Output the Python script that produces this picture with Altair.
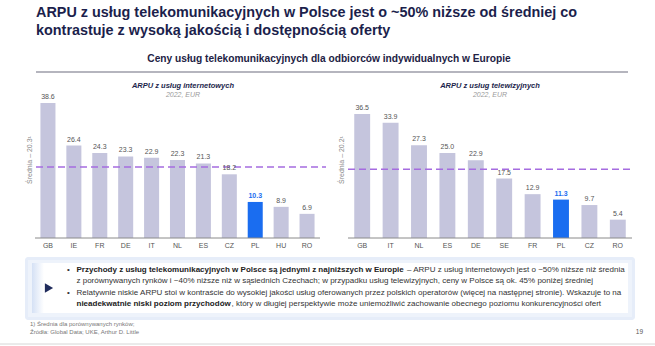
import altair as alt
import pandas as pd

# ---- data ----
countries_net = ["GB", "IE", "FR", "DE", "IT", "NL", "ES", "CZ", "PL", "HU", "RO"]
arpu_net = [38.6, 26.4, 24.3, 23.3, 22.9, 22.3, 21.3, 18.2, 10.3, 8.9, 6.9]
avg_net = 20.3

countries_tv = ["GB", "IT", "NL", "ES", "DE", "SE", "FR", "PL", "CZ", "RO"]
arpu_tv = [36.5, 33.9, 27.3, 25.0, 22.9, 17.5, 12.9, 11.3, 9.7, 5.4]
avg_tv = 20.2

FONT = "Liberation Sans"
NAVY = "#1c1f4c"
BAR = "#c5c5dd"
BLUE = "#1a6df0"
PURPLE = "#a56ce0"
GRAY_TXT = "#555555"

one = pd.DataFrame({"k": [0]})


def T(s, x, y, size, color="#333333", weight="normal", style="normal",
      align="left", angle=0, baseline="middle"):
    return alt.Chart(one).mark_text(
        align=align, baseline=baseline, fontSize=size, fontWeight=weight,
        fontStyle=style, color=color, font=FONT, angle=angle
    ).encode(x=alt.value(x), y=alt.value(y), text=alt.value(s))


def panel(countries, values, avg, xrange, ydomain, pin, pout, line_x, title, tx):
    df = pd.DataFrame({"country": countries, "value": values})
    xsc = alt.Scale(domain=countries, range=xrange, paddingInner=pin, paddingOuter=pout)
    ysc = alt.Scale(domain=ydomain, range=[238, 98], nice=False, zero=True)
    xs = alt.X("country:N", axis=None, scale=xsc)
    ys = alt.Y("value:Q", axis=None, scale=ysc)
    base = alt.Chart(df)
    bars = base.mark_bar().encode(
        x=xs, y=ys,
        color=alt.condition(alt.datum.country == "PL", alt.value(BLUE), alt.value(BAR)),
    )
    lab = base.transform_filter(alt.datum.country != "PL").mark_text(
        baseline="bottom", dy=-3, fontSize=7, color=GRAY_TXT, font=FONT
    ).encode(x=xs, y=ys, text=alt.Text("value:Q", format=".1f"))
    lab_pl = base.transform_filter(alt.datum.country == "PL").mark_text(
        baseline="bottom", dy=-3, fontSize=7, color=BLUE, font=FONT, fontWeight="bold"
    ).encode(x=xs, y=ys, text=alt.Text("value:Q", format=".1f"))
    ctry = base.mark_text(
        baseline="middle", fontSize=7, color=GRAY_TXT, font=FONT
    ).encode(x=xs, y=alt.value(246), text="country:N")
    axis_line = alt.Chart(pd.DataFrame({"value": [0]})).mark_rule(
        color="#8a8a8a", strokeWidth=1
    ).encode(x=alt.value(xrange[0]), x2=alt.value(xrange[1]), y=ys)
    avg_line = alt.Chart(pd.DataFrame({"value": [avg]})).mark_rule(
        color=PURPLE, strokeWidth=1.5, strokeDash=[7, 4]
    ).encode(x=alt.value(line_x[0]), x2=alt.value(line_x[1]), y=ys)
    marks = [bars, axis_line, avg_line, lab, lab_pl, ctry]
    texts = [
        T(title, tx, 86, 7.5, color=NAVY, weight="bold", style="italic", align="center"),
        T("2022, EUR", tx, 95, 7, color="#9a9a9a", style="italic", align="center"),
        T("Średnia – %s¹" % str(avg), line_x[0] - 6, 160, 7, color="#8a8a8a",
          align="center", angle=270),
    ]
    return marks, texts


left, left_txt = panel(countries_net, arpu_net, avg_net, [35, 320], [0, 40],
                       0.42, 0.21, [36, 326], "ARPU z usług internetowych", 183)
right, right_txt = panel(countries_tv, arpu_tv, avg_tv, [348, 632], [0, 41.2],
                         0.44, 0.22, [348, 630], "ARPU z usług telewizyjnych", 490)

# header
header = [
    T("ARPU z usług telekomunikacyjnych w Polsce jest o ~50% niższe od średniej co",
      36, 12.5, 14.4, color=NAVY, weight="bold"),
    T("kontrastuje z wysoką jakością i dostępnością oferty", 36, 30.5, 14.4,
      color=NAVY, weight="bold"),
    T("Ceny usług telekomunikacyjnych dla odbiorców indywidualnych w Europie",
      329, 58.5, 10.2, color="#222244", weight="bold", align="center"),
]
sep = alt.Chart(one).mark_rule(color="#b5b5be", strokeWidth=2).encode(
    x=alt.value(36), x2=alt.value(628), y=alt.value(72))

# box with soft bluish glow
glow1 = alt.Chart(one).mark_rect(color="#e6edf9", cornerRadius=3).encode(
    x=alt.value(25), x2=alt.value(635), y=alt.value(257), y2=alt.value(320))
glow2 = alt.Chart(one).mark_rect(color="#eef3fb").encode(
    x=alt.value(28), x2=alt.value(632), y=alt.value(260), y2=alt.value(317))
box = alt.Chart(one).mark_rect(color="#ffffff").encode(
    x=alt.value(32), x2=alt.value(628), y=alt.value(263), y2=alt.value(313))
left_glow = alt.Chart(one).mark_rect(
    color=alt.LinearGradient(
        gradient="linear", x1=0, x2=1, y1=0, y2=0,
        stops=[alt.GradientStop(color="#d5e1f5", offset=0),
               alt.GradientStop(color="#ffffff", offset=1)])
).encode(x=alt.value(32), x2=alt.value(44), y=alt.value(263), y2=alt.value(313))
arrow = alt.Chart(one).mark_point(
    shape="triangle-right", filled=True, color="#1f2b5c", size=90, opacity=1
).encode(x=alt.value(49), y=alt.value(288))

FS = 8.0
TXT = "#333333"
ly = [269.5, 281, 292.5, 304]
box_txt = [
    T("•", 67, ly[0], FS, color=TXT),
    T("Przychody z usług telekomunikacyjnych w Polsce są jednymi z najniższych w Europie",
      76.5, ly[0], FS, color="#222222", weight="bold"),
    T("– ARPU z usług internetowych jest o ~50% niższe niż średnia", 407, ly[0], FS, color=TXT),
    T("z porównywanych rynków i ~40% niższe niż w sąsiednich Czechach; w przypadku usług "
      "telewizyjnych, ceny w Polsce są ok. 45% poniżej średniej", 76.5, ly[1], FS, color=TXT),
    T("•", 67, ly[2], FS, color=TXT),
    T("Relatywnie niskie ARPU stoi w kontraście do wysokiej jakości usług oferowanych przez "
      "polskich operatorów (więcej na następnej stronie). Wskazuje to na", 76.5, ly[2], FS, color=TXT),
    T("nieadekwatnie niski poziom przychodów", 76.5, ly[3], FS, color="#222222", weight="bold"),
    T(", który w długiej perspektywie może uniemożliwić zachowanie obecnego poziomu "
      "konkurencyjności ofert", 231.5, ly[3], FS, color=TXT),
]

foot = [
    T("1) Średnia dla porównywanych rynków;", 30, 324, 6, color="#777777"),
    T("Źródła: Global Data; UKE, Arthur D. Little", 30, 332, 6, color="#777777"),
    T("19", 643, 332, 6.5, color="#555555", align="right"),
]
bottom_line = alt.Chart(one).mark_rule(color="#d6d6d6", strokeWidth=1).encode(
    x=alt.value(0), x2=alt.value(655), y=alt.value(344))

chart = alt.layer(
    *header, sep, *left, *right, *left_txt, *right_txt,
    glow1, glow2, box, left_glow, arrow, *box_txt, *foot, bottom_line
).resolve_scale(x="independent", y="independent").properties(
    width=655, height=346, padding=0,
    autosize=alt.AutoSizeParams(type="none"), background="white"
).configure_view(stroke=None)

chart.save("out.html", embed_options={"renderer": "svg", "actions": False})
